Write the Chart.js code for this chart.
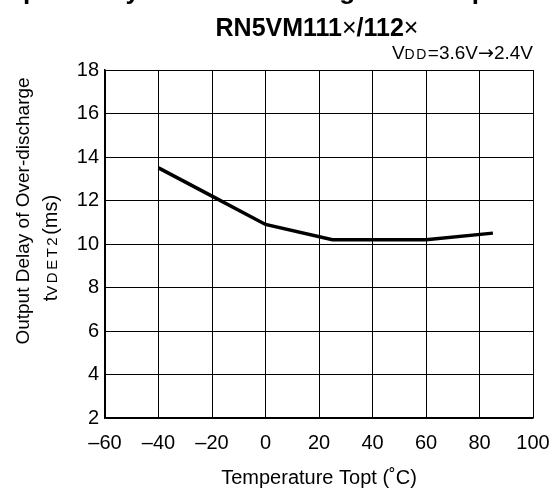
<!DOCTYPE html>
<html>
<head>
<meta charset="utf-8">
<script src="https://cdn.jsdelivr.net/npm/chart.js@4"></script>
<style>
  body { margin: 0; background: #fff; }
  #wrap { width: 554px; height: 493px; }
</style>
</head>
<body>
<div id="wrap"><canvas id="chart" width="554" height="493"></canvas></div>
<script>
// values
const temps = [-40, -20, 0, 25, 60, 85];
const delays = [13.5, 12.2, 10.9, 10.2, 10.2, 10.5];
const xTicks = [-60, -40, -20, 0, 20, 40, 60, 80, 100];
const yTicks = [2, 4, 6, 8, 10, 12, 14, 16, 18];

const FONT = '"Liberation Sans", Arial, sans-serif';

// text runs: [text, size, bold, letterSpacing, family]
function setFont(ctx, r) {
  ctx.font = (r[2] ? 'bold ' : '') + r[1] + 'px ' + (r[4] || FONT);
  ctx.letterSpacing = (r[3] || 0) + 'px';
}
function drawRuns(ctx, runs, x, y) {
  runs.forEach(r => {
    setFont(ctx, r);
    ctx.fillText(r[0], x, y);
    x += ctx.measureText(r[0]).width;
  });
  ctx.letterSpacing = '0px';
}
function runsWidth(ctx, runs) {
  let w = 0;
  runs.forEach(r => {
    setFont(ctx, r);
    w += ctx.measureText(r[0]).width;
  });
  ctx.letterSpacing = '0px';
  return w;
}

const labelsPlugin = {
  id: 'labels',
  afterDraw(chart) {
    const ctx = chart.ctx;
    const area = chart.chartArea;
    const cx = (area.left + area.right) / 2;
    ctx.save();
    ctx.fillStyle = '#000';
    ctx.textBaseline = 'alphabetic';

    // cropped heading at the very top
    ctx.font = 'bold 26px ' + FONT;
    ctx.textAlign = 'center';
    ctx.fillText('Output Delay of Over-discharge vs. Temperature', 277, -1);
    ctx.textAlign = 'left';

    // part number title
    const title = [['RN5VM111', 25, true], ['\u00d7', 25, false], ['/112', 25, true], ['\u00d7', 25, false]];
    drawRuns(ctx, title, cx - 2 - runsWidth(ctx, title) / 2, 36);

    // condition label
    const arrowFont = '"DejaVu Sans", sans-serif';
    const cond = [['V', 19], ['DD', 14, false, 1.5], ['=3.6V', 19], ['\u2192', 19, false, 0, arrowFont], ['2.4V', 19]];
    drawRuns(ctx, cond, area.right - runsWidth(ctx, cond), 59);

    // x axis title
    ctx.font = '20px ' + FONT;
    ctx.textAlign = 'center';
    ctx.fillText('Temperature Topt (\u02daC)', cx, 484);

    // y axis title (two lines, rotated)
    ctx.rotate(-Math.PI / 2);
    ctx.font = '19px ' + FONT;
    ctx.fillText('Output Delay of Over-discharge', -211, 29);
    const sub = [['t', 20], ['VDET2', 15, false, 2.5], ['(ms)', 20]];
    ctx.textAlign = 'left';
    drawRuns(ctx, sub, -248 - runsWidth(ctx, sub) / 2, 57);
    ctx.restore();
  }
};

new Chart(document.getElementById('chart'), {
  type: 'line',
  data: {
    datasets: [{
      data: temps.map((t, i) => ({ x: t, y: delays[i] })),
      borderColor: '#000',
      borderWidth: 3.5,
      pointRadius: 0,
      tension: 0,
      fill: false
    }]
  },
  options: {
    responsive: false,
    animation: false,
    layout: { padding: { top: 70, right: 21, left: 0, bottom: 0 } },
    plugins: { legend: { display: false }, tooltip: { enabled: false } },
    scales: {
      x: {
        type: 'linear',
        min: -60,
        max: 100,
        afterBuildTicks: (s) => { s.ticks = xTicks.map(v => ({ value: v })); },
        afterFit: (s) => { s.height = 75; s.paddingLeft = 0; s.paddingRight = 0; },
        grid: { color: '#000', lineWidth: 1, drawTicks: false },
        border: { color: '#000', width: 1.5 },
        ticks: {
          color: '#000',
          padding: 13,
          maxRotation: 0,
          font: { family: FONT, size: 20 },
          callback: (v) => v < 0 ? '\u2013' + Math.abs(v) : String(v)
        }
      },
      y: {
        min: 2,
        max: 18,
        afterBuildTicks: (s) => { s.ticks = yTicks.map(v => ({ value: v })); },
        afterFit: (s) => { s.width = 105; s.paddingTop = 0; s.paddingBottom = 0; },
        grid: { color: '#000', lineWidth: 1, drawTicks: false },
        border: { color: '#000', width: 1.5 },
        ticks: {
          color: '#000',
          padding: 6,
          font: { family: FONT, size: 20 }
        }
      }
    }
  },
  plugins: [labelsPlugin]
});
</script>
</body>
</html>
